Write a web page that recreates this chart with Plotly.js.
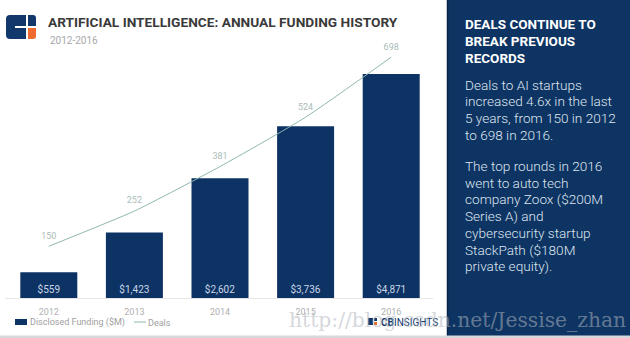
<!DOCTYPE html>
<html>
<head>
<meta charset="utf-8">
<script src="https://cdn.plot.ly/plotly-3.0.1.min.js"></script>
<style>html,body{margin:0;padding:0;background:#fff;}#chart{width:630px;height:338px;}</style>
</head>
<body>
<div id="chart"></div>
<script>
// ---- data ----
const years = ['2012', '2013', '2014', '2015', '2016'];
const funding = [559, 1423, 2602, 3736, 4871];
const fundingLabels = ['$559', '$1,423', '$2,602', '$3,736', '$4,871'];
const deals = [150, 252, 381, 524, 698];
const seriesNames = ['Disclosed Funding ($M)', 'Deals'];
const titleText = 'ARTIFICIAL INTELLIGENCE: ANNUAL FUNDING HISTORY';
const subtitleText = '2012-2016';
const panelHeading = ['DEALS CONTINUE TO', 'BREAK PREVIOUS', 'RECORDS'];
const panelBody1 = ['Deals to AI startups', 'increased 4.6x in the last', '5 years, from 150 in 2012', 'to 698 in 2016.'];
const panelBody2 = ['The top rounds in 2016', 'went to auto tech', 'company Zoox ($200M', 'Series A) and', 'cybersecurity startup', 'StackPath ($180M', 'private equity).'];
const watermark = 'http://blog.csdn.net/Jessise_zhan';

// ---- layout geometry ----
const W = 630, H = 338;
const M = {l: 6, r: 196, t: 40, b: 40};
const PW = W - M.l - M.r, PH = H - M.t - M.b;
const px = x => (x - M.l) / PW;
const py = y => (H - M.b - y) / PH;

const navy = '#0d3364';
const lineCol = '#8fb8ae';
const FONT = 'Roboto, "Open Sans", sans-serif';

const traces = [
  {
    type: 'bar', name: seriesNames[0], x: years, y: funding,
    text: fundingLabels, textposition: 'inside', insidetextanchor: 'start',
    textangle: 0, constraintext: 'none',
    textfont: {family: FONT, size: 10, color: '#c9d6e8'},
    marker: {color: navy}, hoverinfo: 'skip', showlegend: false
  },
  {
    type: 'scatter', mode: 'lines+markers+text', name: seriesNames[1], x: years, y: deals,
    yaxis: 'y2', text: deals.map(String), textposition: 'top center',
    textfont: {family: FONT, size: 9, color: '#a9bcb8'},
    marker: {size: 7, color: 'rgba(0,0,0,0)'},
    line: {color: lineCol, width: 1, shape: 'spline', smoothing: 0.5},
    hoverinfo: 'skip', cliponaxis: false, showlegend: false
  }
];

const shapes = [
  // right panel
  {type: 'rect', xref: 'paper', yref: 'paper', x0: px(447), x1: px(631), y0: py(-1), y1: py(339),
   fillcolor: '#0e3463', line: {width: 0}, layer: 'below'},
  {type: 'line', xref: 'paper', yref: 'paper', x0: px(447.5), x1: px(447.5), y0: py(-1), y1: py(339),
   line: {color: '#0a2448', width: 1.5}, layer: 'below'},
  // baseline
  {type: 'line', xref: 'paper', yref: 'paper', x0: px(5), x1: px(433), y0: py(298.5), y1: py(298.5),
   line: {color: '#e6e6e6', width: 1}, layer: 'below'},
  // bottom border
  {type: 'rect', xref: 'paper', yref: 'paper', x0: px(-1), x1: px(631), y0: py(339), y1: py(335.5),
   fillcolor: '#d5d8dc', line: {width: 0}, layer: 'above'},
  // logo icon
  {type: 'path', xref: 'paper', yref: 'paper',
   path: `M ${px(10)},${py(15)} L ${px(26)},${py(15)} L ${px(26)},${py(39)} L ${px(10)},${py(39)} Q ${px(6)},${py(39)} ${px(6)},${py(35)} L ${px(6)},${py(19)} Q ${px(6)},${py(15)} ${px(10)},${py(15)} Z`,
   fillcolor: '#12376a', line: {width: 0}},
  {type: 'path', xref: 'paper', yref: 'paper',
   path: `M ${px(28)},${py(15)} L ${px(33)},${py(15)} Q ${px(36)},${py(15)} ${px(36)},${py(18)} L ${px(36)},${py(26)} L ${px(28)},${py(26)} Z`,
   fillcolor: '#12376a', line: {width: 0}},
  {type: 'path', xref: 'paper', yref: 'paper',
   path: `M ${px(28)},${py(28)} L ${px(36)},${py(28)} L ${px(36)},${py(36)} Q ${px(36)},${py(39)} ${px(33)},${py(39)} L ${px(28)},${py(39)} Z`,
   fillcolor: '#ee6a2e', line: {width: 0}},
  {type: 'rect', xref: 'paper', yref: 'paper', x0: px(15), x1: px(28), y0: py(28), y1: py(26),
   fillcolor: '#ffffff', line: {width: 0}},
  // legend symbols
  {type: 'rect', xref: 'paper', yref: 'paper', x0: px(15), x1: px(27), y0: py(325), y1: py(319),
   fillcolor: navy, line: {width: 0}},
  {type: 'line', xref: 'paper', yref: 'paper', x0: px(134), x1: px(146), y0: py(322), y1: py(322),
   line: {color: lineCol, width: 1}},
  // CB Insights mini icon
  {type: 'rect', xref: 'paper', yref: 'paper', x0: px(368), x1: px(373), y0: py(325), y1: py(318),
   fillcolor: '#12376a', line: {width: 0}},
  {type: 'rect', xref: 'paper', yref: 'paper', x0: px(374), x1: px(377), y0: py(321), y1: py(318),
   fillcolor: '#12376a', line: {width: 0}},
  {type: 'rect', xref: 'paper', yref: 'paper', x0: px(374), x1: px(377), y0: py(325), y1: py(322),
   fillcolor: '#ee6a2e', line: {width: 0}}
];

function textAt(text, x, y, font, anchor) {
  return {text: text, xref: 'paper', yref: 'paper', x: px(x), y: py(y), xanchor: anchor || 'left',
          yanchor: 'middle', align: 'left', showarrow: false, font: font};
}

const headFont = {family: FONT, size: 13.5, color: '#ffffff', weight: 700};
const bodyFont = {family: FONT, size: 13.6, color: '#dfe6ef', weight: 300};
const legFont = {family: FONT, size: 9, color: '#a0a0a0'};

const annotations = [
  textAt(subtitleText, 48, 40, {family: FONT, size: 10, color: '#a8a8a8'}),
  textAt(seriesNames[0], 28, 322.5, legFont),
  textAt(seriesNames[1], 146, 322.5, legFont),
  textAt('<b>CB</b>INSIGHTS', 379, 322, {family: FONT, size: 10, color: '#12376a'}),
  textAt(watermark, 287, 320, {family: '"DejaVu Serif", "Liberation Serif", serif', size: 20.3, color: 'rgba(175,180,188,0.55)'})
];
panelHeading.forEach((s, i) => annotations.push(textAt(s, 463, 24.3 + i * 16.75, headFont)));
panelBody1.forEach((s, i) => annotations.push(textAt(s, 463, 84.5 + i * 16.7, bodyFont)));
panelBody2.forEach((s, i) => annotations.push(textAt(s, 463, 166 + i * 16.7, bodyFont)));

const layout = {
  width: W, height: H,
  margin: {l: M.l, r: M.r, t: M.t, b: M.b, pad: 0},
  paper_bgcolor: '#ffffff', plot_bgcolor: 'rgba(0,0,0,0)',
  font: {family: FONT, color: '#999'},
  title: {text: titleText, xref: 'container', yref: 'container', x: 48 / W, xanchor: 'left',
          y: 1 - 22.5 / H, yanchor: 'middle', font: {family: FONT, size: 13.7, color: '#3a3a3a', weight: 700}},
  bargap: 0.334,
  showlegend: false,
  xaxis: {type: 'category', range: [-0.5, 4.5], showgrid: false, zeroline: false, showline: false,
          ticks: '', ticklabelstandoff: 7, tickfont: {family: FONT, size: 9, color: '#b0b0b0'}, fixedrange: true},
  yaxis: {range: [0, PH / 0.04599], visible: false, showgrid: false, zeroline: false, fixedrange: true},
  yaxis2: {range: [0, PH / 0.345], overlaying: 'y', visible: false, showgrid: false, zeroline: false, fixedrange: true},
  shapes: shapes,
  annotations: annotations
};

Plotly.newPlot('chart', traces, layout, {staticPlot: true, displayModeBar: false});
</script>
</body>
</html>
